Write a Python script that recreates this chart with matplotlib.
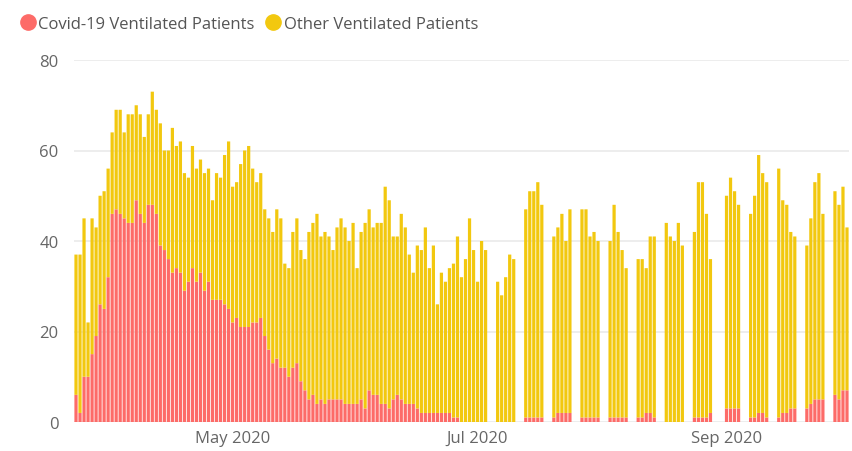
import matplotlib
matplotlib.use("Agg")
import matplotlib.pyplot as plt
import matplotlib.dates as mdates
from matplotlib.lines import Line2D
import numpy as np
import pandas as pd

N = None

# one entry per calendar day, 23 Mar - 1 Oct 2020; None = no return that day
days = pd.date_range("2020-03-23", "2020-10-01", freq="D")

covid = [
    6, 2, 10, 10, 15, 19, 26, 25, 32, 46,
    47, 46, 45, 44, 44, 49, 46, 44, 48, 48,
    46, 39, 38, 36, 33, 34, 33, 29, 31, 34,
    31, 33, 29, 31, 27, 27, 27, 26, 25, 22,
    23, 21, 21, 21, 22, 22, 23, 19, 16, 13,
    14, 12, 12, 10, 12, 13, 9, 7, 5, 6,
    4, 5, 4, 5, 5, 5, 5, 4, 4, 4,
    4, 5, 3, 7, 6, 6, 4, 4, 3, 5,
    6, 5, 4, 4, 4, 3, 2, 2, 2, 2,
    2, 2, 2, 2, 1, 1, 0, 0, 0, 0,
    0, 0, 0,
    N, N, 0, 0, 0, 0, 0,
    N, N, 1, 1, 1, 1, 1,
    N, N, 1, 2, 2, 2, 2,
    N, N, 1, 1, 1, 1, 1,
    N, N, 1, 1, 1, 1, 1,
    N, N, 1, 1, 2, 2, 1,
    N, N, 0, 0, 0, 0, 0,
    N, N, 1, 1, 1, 1, 2,
    N, N, N, 3, 3, 3, 3,
    N, N, 1, 1, 2, 2, 1,
    N, N, 1, 2, 2, 3, 3,
    N, N, 3, 4, 5, 5, 5,
    N, N, 6, 5, 7, 7,
]

other = [
    31, 35, 35, 12, 30, 24, 24, 26, 24, 18,
    22, 23, 19, 24, 24, 21, 22, 19, 20, 25,
    23, 27, 22, 24, 32, 27, 29, 26, 23, 27,
    25, 25, 26, 25, 22, 28, 27, 33, 37, 30,
    30, 36, 39, 40, 34, 31, 32, 28, 29, 29,
    33, 33, 23, 24, 30, 32, 29, 29, 37, 38,
    42, 36, 38, 36, 33, 38, 40, 39, 36, 40,
    30, 37, 41, 40, 37, 38, 40, 48, 46, 36,
    35, 41, 39, 33, 29, 36, 36, 41, 32, 37,
    24, 31, 29, 32, 34, 40, 32, 36, 45, 38,
    31, 40, 38,
    N, N, 31, 28, 32, 37, 36,
    N, N, 46, 50, 50, 52, 47,
    N, N, 40, 41, 44, 38, 45,
    N, N, 46, 46, 40, 41, 39,
    N, N, 39, 47, 41, 37, 33,
    N, N, 35, 35, 32, 39, 40,
    N, N, 44, 41, 40, 44, 39,
    N, N, 41, 52, 52, 45, 34,
    N, N, N, 47, 51, 48, 45,
    N, N, 45, 49, 57, 53, 52,
    N, N, 55, 47, 46, 39, 38,
    N, N, 36, 41, 48, 50, 41,
    N, N, 45, 43, 45, 36,
]

series_names = ["Covid-19 Ventilated Patients", "Other Ventilated Patients"]
RED = "#FD6B68"
YELLOW = "#F2C80F"
GRID = "#EAEAEA"
TXT = "#666666"

plt.rcParams["font.family"] = ["Open Sans", "DejaVu Sans"]

df = pd.DataFrame({"covid": covid, "other": other}, index=days, dtype=float).dropna()

fig = plt.figure(figsize=(8.52, 4.52), dpi=100)
ax = fig.add_axes([74 / 852, 1 - 423 / 452, (849 - 74) / 852, (423 - 61) / 452])

ax.bar(df.index, df["covid"], width=0.8, color=RED, linewidth=0, snap=False, zorder=3)
ax.bar(df.index, df["other"], bottom=df["covid"], width=0.8, color=YELLOW,
       linewidth=0, snap=False, zorder=3)

ax.set_ylim(0, 80)
ax.set_yticks([0, 20, 40, 60, 80])
ax.set_xlim(days[0] - pd.Timedelta(hours=12), days[-1] + pd.Timedelta(hours=12))
ax.set_xticks(pd.to_datetime(["2020-05-01", "2020-07-01", "2020-09-01"]))
ax.xaxis.set_major_formatter(mdates.DateFormatter("%b %Y"))

ax.grid(axis="y", color=GRID, linewidth=1.2, zorder=0)
for s in ax.spines.values():
    s.set_visible(False)
ax.tick_params(axis="both", length=0, labelsize=12, labelcolor=TXT)
ax.tick_params(axis="y", pad=11)
ax.tick_params(axis="x", pad=6)

handles = [
    Line2D([], [], marker="o", linestyle="none", markersize=11, color=RED),
    Line2D([], [], marker="o", linestyle="none", markersize=11, color=YELLOW),
]
fig.legend(handles, series_names, loc="center left", bbox_to_anchor=(21 / 852, 1 - 25 / 452),
           ncol=2, frameon=False, fontsize=12, labelcolor="#555555",
           handlelength=0.8, handletextpad=0.25, columnspacing=0.7, borderpad=0, borderaxespad=0)

fig.savefig("out.png", dpi=100, facecolor="white")
